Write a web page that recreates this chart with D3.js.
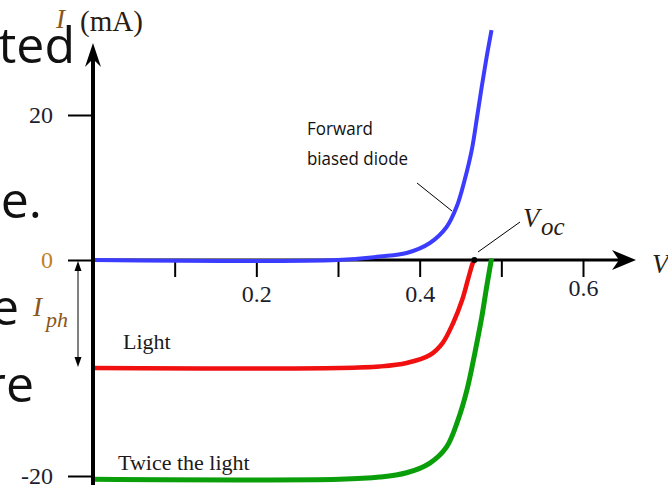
<!DOCTYPE html>
<html>
<head>
<meta charset="utf-8">
<script src="https://cdn.jsdelivr.net/npm/d3@7"></script>
<style>
  html, body { margin: 0; padding: 0; background: #fff; }
  svg { display: block; }
</style>
</head>
<body>
<svg id="chart" width="668" height="485"></svg>
<script>
// Dark (forward biased) diode curve: voltage (V) and current (mA)
const darkV = [0, 0.30, 0.351, 0.384, 0.4125, 0.433, 0.4455, 0.455, 0.464, 0.470, 0.476, 0.482, 0.488];
const darkI = [0, 0, 0.48, 0.97, 2.35, 4.55, 7.4, 11.0, 15.3, 19.5, 23.9, 28.0, 31.7];

// Illuminated diode
const lightV = [0, 0.302, 0.351, 0.384, 0.4125, 0.428, 0.441, 0.452, 0.459, 0.465, 0.467];
const lightI = [-10.0, -10.0, -9.86, -9.54, -8.8, -7.69, -5.83, -3.7, -1.85, -0.28, 0];

// Twice the illumination
const twiceV = [0, 0.302, 0.351, 0.384, 0.4125, 0.433, 0.447, 0.458, 0.4676, 0.476, 0.482, 0.488];
const twiceI = [-20.3, -20.3, -20.1, -19.7, -18.8, -17.3, -14.8, -12.0, -8.6, -5.3, -2.5, 0.2];

// Photocurrent and open-circuit voltage
const photoCurrent = -10.0;
const openCircuitV = 0.467;

// Axis ticks
const xTickValues = [0.1, 0.2, 0.3, 0.4, 0.5, 0.6];
const xTickLabels = ["", "0.2", "", "0.4", "", "0.6"];
const yTickValues = [-20, 0, 20];
const yTickLabels = ["-20", "0", "20"];

const svg = d3.select("#chart");
const serif = "'Liberation Serif', 'Times New Roman', serif";
const sans = "'Open Sans', 'Noto Sans', sans-serif";

// Scales (the current axis is drawn with different spacing above and below zero)
const x = d3.scaleLinear().domain([0, 0.6]).range([93, 583]);
const y = d3.scaleLinear().domain([-20, 0, 20]).range([476, 260, 115]);

// Slide text running behind the chart
const slide = svg.append("g")
  .attr("font-family", sans)
  .attr("font-size", 50)
  .attr("fill", "#111")
  .attr("text-anchor", "end");
[["ted", 75, 63], ["e.", 42, 218], ["e", 19, 325], ["re", 34, 402]].forEach(([t, tx, ty]) => {
  slide.append("text").attr("x", tx).attr("y", ty).text(t);
});

// Horizontal (voltage) axis line and arrow
svg.append("line")
  .attr("x1", x(0)).attr("x2", 626)
  .attr("y1", y(0)).attr("y2", y(0))
  .attr("stroke", "#000").attr("stroke-width", 3);
svg.append("path")
  .attr("d", `M636,${y(0)} L612,${y(0) - 10} L619,${y(0)} L612,${y(0) + 10} Z`)
  .attr("fill", "#000");

// Voltage ticks
const xAxis = d3.axisBottom(x)
  .tickValues(xTickValues)
  .tickSize(17)
  .tickPadding(12)
  .tickFormat((d, i) => xTickLabels[i]);
const gx = svg.append("g")
  .attr("transform", `translate(0,${y(0)})`)
  .call(xAxis);
gx.select(".domain").remove();
gx.selectAll(".tick line").attr("stroke", "#000").attr("stroke-width", 2);
gx.selectAll(".tick text")
  .attr("font-family", serif)
  .attr("font-size", 24)
  .attr("fill", "#1d1d2e")
  .attr("dy", (d) => d === 0.6 ? "0.3em" : "0.55em");

// Curves
const line = d3.line()
  .x((d) => x(d[0]))
  .y((d) => y(d[1]))
  .curve(d3.curveCatmullRom.alpha(0.5));

const series = [
  { v: twiceV, i: twiceI, color: "#0b9e0b", width: 5 },
  { v: lightV, i: lightI, color: "#f01010", width: 4.5 },
  { v: darkV, i: darkI, color: "#3c3cff", width: 4 }
];
series.forEach((s) => {
  svg.append("path")
    .datum(s.v.map((v, k) => [v, s.i[k]]))
    .attr("d", line)
    .attr("fill", "none")
    .attr("stroke", s.color)
    .attr("stroke-width", s.width)
    .attr("stroke-linejoin", "round");
});

// Vertical (current) axis line and arrow
svg.append("line")
  .attr("x1", x(0)).attr("x2", x(0))
  .attr("y1", 58).attr("y2", 485)
  .attr("stroke", "#000").attr("stroke-width", 4);
svg.append("path")
  .attr("d", `M${x(0)},43 L${x(0) - 8},67 L${x(0)},59 L${x(0) + 8},67 Z`)
  .attr("fill", "#000");

const yAxis = d3.axisLeft(y)
  .tickValues(yTickValues)
  .tickSize(25)
  .tickPadding(15)
  .tickFormat((d, i) => yTickLabels[i]);
const gy = svg.append("g")
  .attr("transform", `translate(${x(0)},0)`)
  .call(yAxis);
gy.select(".domain").remove();
gy.selectAll(".tick line").attr("stroke", "#000").attr("stroke-width", 2);
gy.selectAll(".tick text")
  .attr("font-family", serif)
  .attr("font-size", 24)
  .attr("fill", (d) => d === 0 ? "#c47e22" : "#1d1d2e");

// Axis titles
svg.append("text")
  .attr("x", 56).attr("y", 28)
  .attr("font-family", serif).attr("font-style", "italic").attr("font-size", 27)
  .attr("fill", "#8a561c")
  .text("I");
svg.append("text")
  .attr("x", 80).attr("y", 31)
  .attr("font-family", serif).attr("font-size", 29)
  .attr("fill", "#2a1c10")
  .text("(mA)");

svg.append("text")
  .attr("x", 652).attr("y", 273)
  .attr("font-family", serif).attr("font-style", "italic").attr("font-size", 27)
  .attr("fill", "#2a1c10")
  .text("V");

// Photocurrent marker between zero and the illuminated plateau
const iphX = 78;
svg.append("line")
  .attr("x1", iphX).attr("x2", iphX)
  .attr("y1", y(0) + 4).attr("y2", y(photoCurrent) - 4)
  .attr("stroke", "#000").attr("stroke-width", 1);
svg.append("path")
  .attr("d", `M${iphX},${y(0) + 1} L${iphX - 3.5},${y(0) + 11} L${iphX + 3.5},${y(0) + 11} Z`)
  .attr("fill", "#000");
svg.append("path")
  .attr("d", `M${iphX},${y(photoCurrent) - 1} L${iphX - 3.5},${y(photoCurrent) - 11} L${iphX + 3.5},${y(photoCurrent) - 11} Z`)
  .attr("fill", "#000");
const iph = svg.append("text").attr("font-family", serif).attr("font-style", "italic").attr("fill", "#8a561c");
iph.append("tspan").attr("x", 33).attr("y", 316).attr("font-size", 27).text("I");
iph.append("tspan").attr("x", 46).attr("y", 327).attr("font-size", 22).text("ph");

// Curve labels
svg.append("text")
  .attr("x", 123).attr("y", 349)
  .attr("font-family", serif).attr("font-size", 22).attr("fill", "#1d1a1a")
  .text("Light");
svg.append("text")
  .attr("x", 118).attr("y", 470)
  .attr("font-family", serif).attr("font-size", 22).attr("fill", "#1d1a1a")
  .text("Twice the light");

svg.append("text")
  .attr("x", 307).attr("y", 135)
  .attr("font-family", sans).attr("font-size", 19).attr("fill", "#111")
  .attr("textLength", 66).attr("lengthAdjust", "spacingAndGlyphs")
  .text("Forward");
svg.append("text")
  .attr("x", 307).attr("y", 165)
  .attr("font-family", sans).attr("font-size", 19).attr("fill", "#111")
  .attr("textLength", 101).attr("lengthAdjust", "spacingAndGlyphs")
  .text("biased diode");
svg.append("line")
  .attr("x1", 417).attr("y1", 183).attr("x2", 452).attr("y2", 211)
  .attr("stroke", "#000").attr("stroke-width", 1);

// Open-circuit voltage marker
svg.append("circle")
  .attr("cx", x(openCircuitV)).attr("cy", y(0))
  .attr("r", 3).attr("fill", "#000");
svg.append("line")
  .attr("x1", 478).attr("y1", 252).attr("x2", 520).attr("y2", 222)
  .attr("stroke", "#000").attr("stroke-width", 1);
const voc = svg.append("text").attr("font-family", serif).attr("font-style", "italic").attr("fill", "#2a1c10");
voc.append("tspan").attr("x", 523).attr("y", 227).attr("font-size", 27).text("V");
voc.append("tspan").attr("x", 541).attr("y", 235).attr("font-size", 25).text("oc");
</script>
</body>
</html>
